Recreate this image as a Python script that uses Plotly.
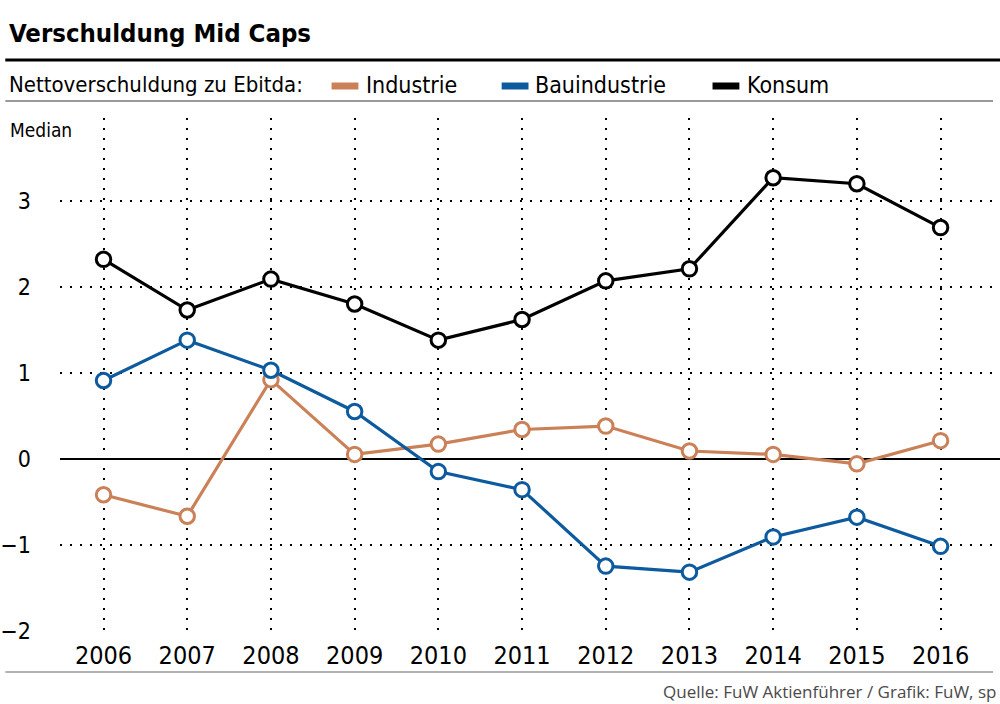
import plotly.graph_objects as go

years = [2006, 2007, 2008, 2009, 2010, 2011, 2012, 2013, 2014, 2015, 2016]
industrie = [-0.42, -0.67, 0.92, 0.05, 0.17, 0.34, 0.38, 0.09, 0.05, -0.06, 0.21]
bauindustrie = [0.91, 1.38, 1.03, 0.55, -0.15, -0.36, -1.25, -1.32, -0.91, -0.68, -1.02]
konsum = [2.32, 1.73, 2.09, 1.80, 1.38, 1.62, 2.07, 2.21, 3.27, 3.20, 2.69]
y_ticks = [-2, -1, 0, 1, 2, 3]
y_labels = ["\u22122", "\u22121", "0", "1", "2", "3"]

series_names = ["Industrie", "Bauindustrie", "Konsum"]
series_values = [industrie, bauindustrie, konsum]
colors = ["#CB8158", "#0D5A9E", "#000000"]

FONT = "DejaVu Sans Condensed, Liberation Sans Narrow, sans-serif"

W, H = 1000, 704
L, R, T, B = 55, 0, 118, 73
PW, PH = W - L - R, H - T - B


def px(x):
    return (x - L) / PW


def py(y):
    return (H - B - y) / PH


fig = go.Figure()
for name, vals, col in zip(series_names, series_values, colors):
    fig.add_trace(go.Scatter(
        x=years, y=vals, name=name, mode="lines+markers",
        line=dict(color=col, width=3.2),
        marker=dict(symbol="circle", size=14.5, color="white",
                    line=dict(color=col, width=3)),
        cliponaxis=False,
    ))

shapes = [
    dict(type="line", xref="paper", yref="paper", x0=px(0), x1=px(1000),
         y0=py(60), y1=py(60), line=dict(color="black", width=3)),
    dict(type="line", xref="paper", yref="paper", x0=px(0), x1=px(993),
         y0=py(101), y1=py(101), line=dict(color="#777777", width=1.5)),
    dict(type="line", xref="paper", yref="paper", x0=px(0), x1=px(993),
         y0=py(672), y1=py(672), line=dict(color="#999999", width=1.5)),
]
annotations = [
    dict(text="<b>Verschuldung Mid Caps</b>", xref="paper", yref="paper",
         x=px(2), y=py(33), xanchor="left", yanchor="middle", showarrow=False,
         font=dict(family=FONT, size=25.5, color="black")),
    dict(text="Nettoverschuldung zu Ebitda:", xref="paper", yref="paper",
         x=px(2), y=py(85), xanchor="left", yanchor="middle", showarrow=False,
         font=dict(family=FONT, size=22, color="black")),
    dict(text="Median", xref="paper", yref="paper",
         x=px(3), y=py(130), xanchor="left", yanchor="middle", showarrow=False,
         font=dict(family=FONT, size=19, color="black")),
    dict(text="Quelle: FuW Aktienführer / Grafik: FuW, sp", xref="paper", yref="paper",
         x=px(998), y=py(691), xanchor="right", yanchor="middle", showarrow=False,
         font=dict(family="Open Sans, DejaVu Sans, sans-serif", size=17, color="#4a4a4a")),
]
legend_pos = [(328, 355, 361), (499, 526, 531), (711, 738, 744)]
for (s0, s1, tx), name, col in zip(legend_pos, series_names, colors):
    shapes.append(dict(type="line", xref="paper", yref="paper", x0=px(s0), x1=px(s1),
                       y0=py(86), y1=py(86), line=dict(color=col, width=7)))
    annotations.append(dict(text=name, xref="paper", yref="paper",
                            x=px(tx), y=py(85), xanchor="left", yanchor="middle",
                            showarrow=False, font=dict(family=FONT, size=23, color="black")))

fig.update_layout(
    width=W, height=H,
    margin=dict(l=L, r=R, t=T, b=B),
    paper_bgcolor="white", plot_bgcolor="white",
    showlegend=False,
    font=dict(family=FONT, color="black"),
    shapes=shapes, annotations=annotations,
    xaxis=dict(range=[2005.48, 2016.71], tickvals=years, ticktext=[str(y) for y in years],
               showgrid=True, gridcolor="black", gridwidth=2, griddash="2px,8px",
               zeroline=False, showline=False, ticks="", ticklabelstandoff=7,
               tickfont=dict(family=FONT, size=25, color="black")),
    yaxis=dict(range=[-2.005, 3.965], tickvals=y_ticks, ticktext=y_labels,
               showgrid=True, gridcolor="black", gridwidth=2, griddash="2px,8px",
               zeroline=True, zerolinecolor="black", zerolinewidth=2,
               showline=False, ticks="", ticklabelstandoff=28,
               tickfont=dict(family=FONT, size=23, color="black")),
)

fig.write_html("out.html", config={"displayModeBar": False},
               post_script="document.body.style.margin='0';document.body.style.overflow='hidden';")
